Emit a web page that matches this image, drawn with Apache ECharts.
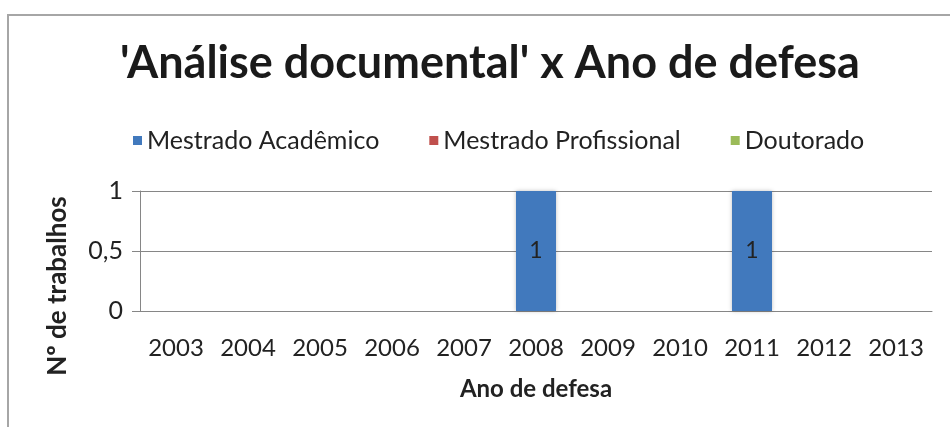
<!DOCTYPE html>
<html>
<head>
<meta charset="utf-8">
<script src="https://cdn.jsdelivr.net/npm/echarts@6/dist/echarts.min.js"></script>
<style>
  html, body { margin: 0; padding: 0; background: #fff; }
  #chart { width: 950px; height: 427px; }
</style>
</head>
<body>
<div id="chart"></div>
<script>
const years = ['2003', '2004', '2005', '2006', '2007', '2008', '2009', '2010', '2011', '2012', '2013'];
const mestradoAcademico = [0, 0, 0, 0, 0, 1, 0, 0, 1, 0, 0];
const mestradoProfissional = [0, 0, 0, 0, 0, 0, 0, 0, 0, 0, 0];
const doutorado = [0, 0, 0, 0, 0, 0, 0, 0, 0, 0, 0];
const yTicks = [0, 0.5, 1];

const fontFamily = 'Lato, "Open Sans", sans-serif';
const gridColor = '#868686';
const textColor = '#222';

function makeSeries(name, values, color) {
  return {
    name,
    type: 'bar',
    stack: 'total',
    barWidth: 40,
    data: values,
    itemStyle: { color, shadowColor: 'rgba(0,0,0,0.25)', shadowBlur: 4 },
    label: {
      show: true,
      position: 'inside',
      color: textColor,
      fontFamily,
      fontSize: 23,
      formatter: (p) => (p.value ? String(p.value) : ''),
    },
  };
}

const myChart = echarts.init(document.getElementById('chart'));
myChart.setOption({
  animation: false,
  title: {
    text: "'Análise documental' x Ano de defesa",
    left: 485,
    top: 36,
    textAlign: 'center',
    textStyle: { fontFamily, fontSize: 45, fontWeight: 'bold', color: '#1a1a1a' },
  },
  legend: {
    top: 123,
    left: 128,
    itemWidth: 9,
    itemHeight: 9,
    itemGap: 50,
    icon: 'rect',
    textStyle: { fontFamily, fontSize: 25, color: textColor },
    data: ['Mestrado Acadêmico', 'Mestrado Profissional', 'Doutorado'],
  },
  graphic: [
    {
      type: 'rect',
      shape: { x: 8, y: 15, width: 1000, height: 500 },
      style: { fill: 'none', stroke: '#a6a6a6', lineWidth: 2 },
      silent: true,
    },
    {
      // y axis title, placed like the original (a bit below the plot middle)
      type: 'text',
      x: 58,
      y: 286,
      rotation: Math.PI / 2,
      style: {
        text: 'Nº de trabalhos',
        fontFamily,
        fontSize: 26,
        fontWeight: 'bold',
        fill: textColor,
        align: 'center',
        verticalAlign: 'middle',
      },
    },
  ],
  grid: { left: 140, right: 18, top: 191, bottom: 116 },
  xAxis: {
    type: 'category',
    data: years,
    name: 'Ano de defesa',
    nameLocation: 'middle',
    nameGap: 66,
    nameTextStyle: { fontFamily, fontSize: 24, fontWeight: 'bold', color: textColor },
    axisLine: { lineStyle: { color: gridColor, width: 1 } },
    axisTick: { show: false },
    axisLabel: { fontFamily, fontSize: 24, color: textColor, margin: 25, interval: 0 },
  },
  yAxis: {
    type: 'value',
    min: yTicks[0],
    max: yTicks[yTicks.length - 1],
    interval: 0.5,
    axisLine: { show: true, lineStyle: { color: gridColor, width: 1 } },
    axisTick: { show: true, length: 8, lineStyle: { color: gridColor } },
    splitLine: { lineStyle: { color: gridColor, width: 1 } },
    axisLabel: {
      fontFamily,
      fontSize: 25,
      color: textColor,
      margin: 17,
      formatter: (v) => String(v).replace('.', ','),
    },
  },
  series: [
    makeSeries('Mestrado Acadêmico', mestradoAcademico, '#4179bd'),
    makeSeries('Mestrado Profissional', mestradoProfissional, '#c0504d'),
    makeSeries('Doutorado', doutorado, '#9bbb59'),
  ],
});
</script>
</body>
</html>
